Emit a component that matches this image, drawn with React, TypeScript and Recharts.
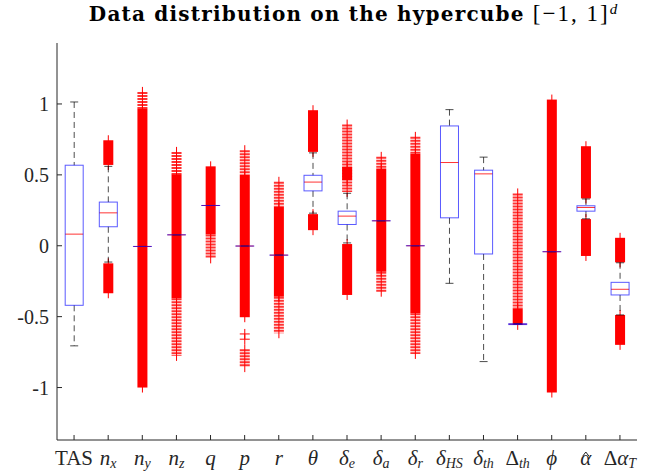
import React from 'react';
import { ComposedChart, Bar, XAxis, YAxis } from 'recharts';

const yDomain: [number, number] = [-1.37, 1.43];
const yTicks = [-1, -0.5, 0, 0.5, 1];

const categories = ['TAS', 'nx', 'ny', 'nz', 'q', 'p', 'r', 'theta', 'de', 'da', 'dr', 'dHS', 'dth', 'Dth', 'phi', 'alphaHat', 'DalphaT'];

// x tick labels (math), parts: [text, italic]
const xLabels: { main: [string, boolean][]; sub?: string; hat?: boolean }[] = [
  { main: [['TAS', false]] },
  { main: [['n', true]], sub: 'x' },
  { main: [['n', true]], sub: 'y' },
  { main: [['n', true]], sub: 'z' },
  { main: [['q', true]] },
  { main: [['p', true]] },
  { main: [['r', true]] },
  { main: [['θ', true]] },
  { main: [['δ', true]], sub: 'e' },
  { main: [['δ', true]], sub: 'a' },
  { main: [['δ', true]], sub: 'r' },
  { main: [['δ', true]], sub: 'HS' },
  { main: [['δ', true]], sub: 'th' },
  { main: [['Δ', false]], sub: 'th' },
  { main: [['ϕ', true]] },
  { main: [['α', true]], hat: true },
  { main: [['Δ', false], ['α', true]], sub: 'T' },
];

const whiskerLow = [-0.706, -0.115, -0.005, 0.077, 0.284, -0.002, -0.066, 0.23, 0.02, 0.176, 0, -0.265, -0.817, -0.553, -0.042, 0.19, -0.488];
const quartile1 = [-0.42, 0.134, -0.005, 0.077, 0.284, -0.002, -0.066, 0.387, 0.15, 0.176, 0, 0.197, -0.058, -0.556, -0.042, 0.244, -0.347];
const medians = [0.082, 0.232, -0.005, 0.077, 0.284, -0.002, -0.066, 0.449, 0.209, 0.176, 0, 0.587, 0.507, -0.553, -0.042, 0.27, -0.307];
const quartile3 = [0.568, 0.308, -0.005, 0.077, 0.284, -0.002, -0.066, 0.497, 0.244, 0.176, 0, 0.845, 0.533, -0.55, -0.042, 0.282, -0.258];
const whiskerHigh = [1.014, 0.56, -0.005, 0.077, 0.284, -0.002, -0.066, 0.655, 0.37, 0.176, 0, 0.96, 0.625, -0.55, -0.042, 0.33, -0.12];

// outlier ranges where the + markers merge into a solid bar
const denseOutliers: [number, number][][] = [
  [],
  [[0.57, 0.744], [-0.335, -0.124]],
  [[-1.0, 0.97]],
  [[-0.37, 0.505]],
  [[0.08, 0.56]],
  [[-0.504, 0.5]],
  [[-0.359, 0.275]],
  [[0.662, 0.956], [0.11, 0.223]],
  [[0.463, 0.556], [-0.347, 0.012]],
  [[-0.183, 0.545]],
  [[-0.476, 0.65]],
  [],
  [],
  [[-0.558, -0.441]],
  [[-1.035, 1.031]],
  [[0.334, 0.702], [-0.072, 0.188]],
  [[-0.117, 0.056], [-0.699, -0.488]],
];

// outlier ranges where single markers are still told apart
const sparseOutliers: [number, number][][] = [
  [],
  [],
  [[0.97, 1.085]],
  [[0.505, 0.662], [-0.777, -0.37]],
  [[-0.089, 0.08]],
  [[0.5, 0.674], [-0.856, -0.73]],
  [[0.275, 0.451], [-0.617, -0.359]],
  [],
  [[0.38, 0.855]],
  [[0.545, 0.627], [-0.324, -0.183]],
  [[0.65, 0.768], [-0.763, -0.476]],
  [],
  [],
  [[-0.441, 0.369]],
  [],
  [],
  [],
];

const singleOutliers: number[][] = [[], [], [], [], [], [-0.622, -0.659], [], [], [], [], [], [], [], [], [], [], []];

const data = categories.map((name, i) => ({ name, i }));

const AXIS = '#262626';
const FONT = '"Liberation Serif", "DejaVu Serif", serif';

const BoxShape = (props: any) => {
  const { x, y, width, height, payload } = props;
  const i = payload.i;
  const top = Math.min(y, y + height);
  const h = Math.abs(height);
  const toY = (v: number) => top + h - ((v - yDomain[0]) / (yDomain[1] - yDomain[0])) * h;
  const cx = x + width / 2;
  const oh = 5; // outlier marker half size
  const capHalf = 4;

  return (
    <g>
      {denseOutliers[i].map(([lo, hi], k) => (
        <g key={'d' + k}>
          <line x1={cx} x2={cx} y1={toY(hi) - oh} y2={toY(lo) + oh} stroke="#ff0000" strokeWidth={1} />
          <rect x={cx - oh} y={toY(hi)} width={oh * 2} height={toY(lo) - toY(hi)} fill="#ff0000" />
        </g>
      ))}
      {sparseOutliers[i].map(([lo, hi], k) => (
        <g key={'s' + k}>
          <line x1={cx} x2={cx} y1={toY(hi)} y2={toY(lo)} stroke="#ff0000" strokeWidth={oh * 2} strokeDasharray="2 1" strokeOpacity={0.8} />
          <line x1={cx} x2={cx} y1={toY(hi) - oh} y2={toY(lo) + oh} stroke="#ff0000" strokeWidth={1} />
        </g>
      ))}
      {singleOutliers[i].map((v, k) => (
        <g key={'o' + k} stroke="#ff0000" strokeWidth={1}>
          <line x1={cx - oh} x2={cx + oh} y1={toY(v)} y2={toY(v)} />
          <line x1={cx} x2={cx} y1={toY(v) - oh} y2={toY(v) + oh} />
        </g>
      ))}
      <line x1={cx} x2={cx} y1={toY(whiskerHigh[i])} y2={toY(quartile3[i])} stroke="#000" strokeOpacity={0.7} strokeDasharray="6 4" />
      <line x1={cx} x2={cx} y1={toY(quartile1[i])} y2={toY(whiskerLow[i])} stroke="#000" strokeOpacity={0.7} strokeDasharray="6 4" />
      <line x1={cx - capHalf} x2={cx + capHalf} y1={toY(whiskerHigh[i])} y2={toY(whiskerHigh[i])} stroke="#000" strokeOpacity={0.7} />
      <line x1={cx - capHalf} x2={cx + capHalf} y1={toY(whiskerLow[i])} y2={toY(whiskerLow[i])} stroke="#000" strokeOpacity={0.7} />
      <line x1={x} x2={x + width} y1={toY(medians[i])} y2={toY(medians[i])} stroke="#ff0000" strokeOpacity={0.8} />
      <rect
        x={x}
        y={toY(quartile3[i])}
        width={width}
        height={Math.max(toY(quartile1[i]) - toY(quartile3[i]), 0.01)}
        fill="none"
        stroke="#0000ff"
        strokeOpacity={0.65}
      />
    </g>
  );
};

const LeftTick = (props: any) => {
  const { x, y, payload } = props;
  return (
    <g>
      <line x1={x} x2={x + 5} y1={y} y2={y} stroke={AXIS} />
      <text x={x - 8} y={y} dy={7} textAnchor="end" fontFamily={FONT} fontSize={20} fill="#262626">
        {String(payload.value)}
      </text>
    </g>
  );
};

const RightTick = (props: any) => {
  const { x, y } = props;
  return <line x1={x} x2={x - 5} y1={y} y2={y} stroke={AXIS} />;
};

const TopTick = (props: any) => {
  const { x, y } = props;
  return <line x1={x} x2={x} y1={y} y2={y + 5} stroke={AXIS} />;
};

const BottomTick = (props: any) => {
  const { x, y, index } = props;
  const lab = xLabels[index];
  return (
    <g>
      <line x1={x} x2={x} y1={y} y2={y - 5} stroke={AXIS} />
      {lab.hat && <polyline points={`${x - 3},${y + 16} ${x},${y + 12} ${x + 3},${y + 16}`} fill="none" stroke="#262626" strokeWidth={1} />}
      <text x={x} y={y + 25} textAnchor="middle" fontFamily={FONT} fontSize={21} fill="#262626">
        {lab.main.map(([t, it], k) => (
          <tspan key={k} fontStyle={it ? 'italic' : 'normal'}>
            {t}
          </tspan>
        ))}
        {lab.sub && (
          <tspan fontStyle="italic" fontSize={14} dy={3}>
            {lab.sub}
          </tspan>
        )}
      </text>
    </g>
  );
};

export default function App() {
  return (
    <div style={{ position: 'absolute', left: 0, top: 0, width: 661, height: 472, background: '#fff' }}>
      <svg width={661} height={40} style={{ position: 'absolute', left: 0, top: 0 }}>
        <text x={353} y={21} textAnchor="middle" fontFamily='"DejaVu Serif", serif' fontSize={20} fill="#000">
          <tspan fontWeight="bold" letterSpacing={1.2}>Data distribution on the hypercube </tspan>
          <tspan fontFamily={FONT} fontSize={23} letterSpacing={2}>[−1, 1]</tspan>
          <tspan fontFamily={FONT} fontStyle="italic" fontSize={15} dy={-7}>
            d
          </tspan>
        </text>
      </svg>
      <ComposedChart width={661} height={472} data={data} margin={{ top: 43, right: 24, bottom: 0, left: 0 }} barCategoryGap="24%">
        <XAxis dataKey="name" height={32} interval={0} tickSize={0} tickMargin={0} tickLine={false} axisLine={{ stroke: AXIS }} tick={<BottomTick />} />
        <XAxis xAxisId="top" dataKey="name" orientation="top" height={0} interval={0} tickSize={0} tickMargin={0} tickLine={false} axisLine={{ stroke: AXIS }} tick={<TopTick />} />
        <YAxis domain={yDomain} ticks={yTicks} width={57} type="number" allowDataOverflow tickSize={0} tickMargin={0} tickLine={false} axisLine={{ stroke: AXIS }} tick={<LeftTick />} />
        <YAxis yAxisId="right" orientation="right" domain={yDomain} ticks={yTicks} width={0} type="number" allowDataOverflow tickSize={0} tickMargin={0} tickLine={false} axisLine={{ stroke: AXIS }} tick={<RightTick />} />
        <Bar dataKey={() => yDomain} shape={<BoxShape />} isAnimationActive={false} />
      </ComposedChart>
    </div>
  );
}
